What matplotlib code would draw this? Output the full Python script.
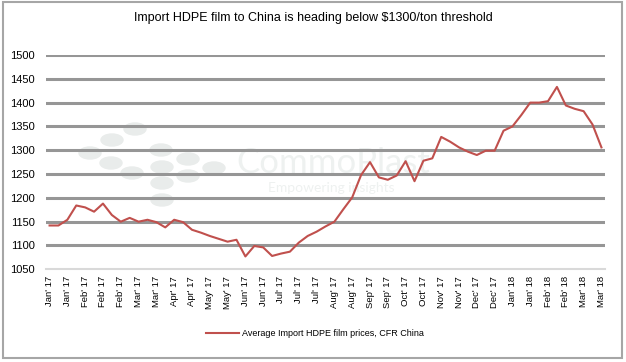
# Import HDPE film prices, CFR China (weekly)
import matplotlib
matplotlib.use("Agg")
import matplotlib.pyplot as plt
from matplotlib.patches import Ellipse, Rectangle

# Data
prices = [1142, 1142, 1154, 1184, 1180, 1171, 1188, 1164, 1150, 1158,
          1150, 1154, 1149, 1138, 1154, 1149, 1133, 1127, 1120, 1114,
          1108, 1112, 1077, 1099, 1096, 1078, 1083, 1087, 1106, 1120,
          1129, 1140, 1150, 1176, 1201, 1248, 1275, 1243, 1238, 1247,
          1277, 1235, 1278, 1283, 1328, 1318, 1306, 1297, 1290, 1299,
          1299, 1341, 1350, 1374, 1400, 1400, 1403, 1433, 1394, 1387,
          1382, 1354, 1306]

tick_labels = ["Jan' 17", "Jan' 17", "Feb' 17", "Feb' 17", "Feb' 17", "Mar' 17",
               "Mar' 17", "Apr' 17", "Apr' 17", "May' 17", "May' 17", "Jun' 17",
               "Jun' 17", "Jul' 17", "Jul' 17", "Jul' 17", "Aug' 17", "Aug' 17",
               "Sep' 17", "Sep' 17", "Oct' 17", "Oct' 17", "Nov' 17", "Nov' 17",
               "Dec' 17", "Dec' 17", "Jan' 18", "Jan' 18", "Feb' 18", "Feb' 18",
               "Mar' 18", "Mar' 18"]

y_ticks = [1050, 1100, 1150, 1200, 1250, 1300, 1350, 1400, 1450, 1500]

plt.rcParams['font.family'] = ['Liberation Sans', 'DejaVu Sans']

fig = plt.figure(figsize=(6.26, 3.62), dpi=100)
W, H = 626.0, 362.0

# frame round the whole picture
fig.patches.append(Rectangle((0.004, 0.01), 0.99, 0.985, transform=fig.transFigure,
                             fill=False, edgecolor="#a6a6a6", lw=1.5))

# watermark: dots + name (behind the axes)
dots = [(135, 129), (112, 140), (90, 153), (111, 163), (132, 173), (161, 150),
        (188, 159), (162, 167), (188, 176), (214, 168), (162, 183), (162, 200)]
for (dx, dy) in dots:
    fig.patches.append(Ellipse((dx / W, 1 - dy / H), 22 / W, 12 / H,
                               transform=fig.transFigure, color="#e9eceb", zorder=-2))
fig.text(236 / W, 1 - 163 / H, "CommoPlast", fontsize=25, color="#eef1f0",
         family="Lato", va="center", ha="left", zorder=-2)
fig.text(268 / W, 1 - 188 / H, "Empowering insights", fontsize=10, color="#eef1f0",
         family="Lato", va="center", ha="left", zorder=-2)

ax = fig.add_axes([46 / W, 1 - 269.3 / H, (605 - 46) / W, (269.3 - 55) / H])
ax.patch.set_alpha(0)

x = list(range(len(prices)))
ax.plot(x, prices, color="#c0504d", lw=1.5, zorder=3,
        label="Average Import HDPE film prices, CFR China")

ax.set_xlim(-0.4, len(prices) - 1 + 0.4)
ax.set_ylim(1050, 1500)
ax.set_yticks(y_ticks)
ax.set_yticklabels([str(v) for v in y_ticks], fontsize=8)
ax.set_xticks(x[::2])
ax.set_xticklabels(tick_labels, rotation=90, fontsize=6.8)
ax.tick_params(length=0, pad=8)
ax.tick_params(axis="x", pad=5)

for v in y_ticks[1:]:
    ax.axhline(v, color="#969696", lw=2.2, zorder=1)
for s in ["top", "right", "left"]:
    ax.spines[s].set_visible(False)
ax.spines["bottom"].set_color("#d9d9d9")
ax.spines["bottom"].set_linewidth(1.5)

fig.text(313 / W, 1 - 18 / H, "Import HDPE film to China is heading below $1300/ton threshold",
         fontsize=9, ha="center", va="center")

fig.legend(loc="center", bbox_to_anchor=(315 / W, 1 - 334 / H), frameon=False,
           fontsize=6.5, handlelength=3.6, handletextpad=0.3)

fig.savefig("out.png", dpi=100)
